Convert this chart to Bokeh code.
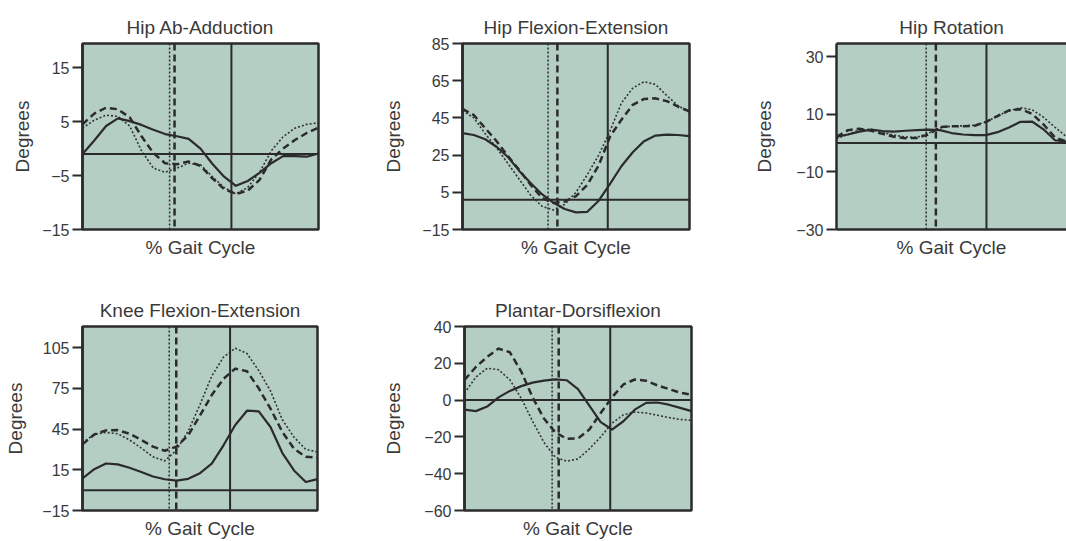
from bokeh.plotting import figure
from bokeh.layouts import column, row
from bokeh.models import Span, LinearAxis
from bokeh.embed import file_html
from bokeh.resources import INLINE

# ---------------- data ----------------
pct = [0, 5, 10, 15, 20, 25, 30, 35, 40, 45, 50, 55, 60, 65, 70, 75, 80, 85, 90, 95, 100]

titles = ["Hip Ab-Adduction", "Hip Flexion-Extension", "Hip Rotation",
          "Knee Flexion-Extension", "Plantar-Dorsiflexion"]
x_label = "% Gait Cycle"
y_label = "Degrees"

# Hip Ab-Adduction
hab_solid = [-1.0, 1.5, 4.2, 5.6, 5.1, 4.4, 3.5, 2.7, 2.3, 1.8, 0.0, -2.8, -5.2, -6.9, -6.0, -4.5, -2.7, -1.4, -1.4, -1.5, -0.9]
hab_dashed = [4.5, 6.5, 7.6, 7.3, 5.8, 2.3, -0.8, -2.7, -2.9, -2.4, -3.2, -5.5, -7.5, -8.4, -7.8, -5.8, -2.0, 0.0, 1.6, 2.9, 3.9]
hab_dotted = [3.8, 5.3, 6.2, 6.0, 4.2, -0.4, -3.6, -4.4, -3.6, -2.7, -3.0, -5.2, -7.2, -8.4, -7.2, -4.4, -0.4, 2.2, 3.8, 4.5, 4.8]

# Hip Flexion-Extension
hfe_solid = [36.8, 35.8, 33.5, 29.5, 24.0, 16.5, 10.0, 4.0, -0.5, -4.0, -5.8, -5.5, 0.5, 9.5, 19.0, 26.5, 32.5, 35.5, 36.0, 35.8, 35.2]
hfe_dashed = [49.8, 46.5, 39.5, 32.5, 24.5, 17.0, 9.0, 2.0, -0.8, 0.0, 3.0, 9.0, 19.5, 35.0, 44.0, 52.0, 55.2, 55.5, 54.0, 51.0, 48.5]
hfe_dotted = [48.9, 45.0, 36.5, 29.0, 20.5, 12.0, 3.5, -2.5, -4.5, -1.5, 5.0, 14.5, 25.0, 38.0, 53.0, 61.0, 64.5, 63.0, 57.0, 51.5, 48.0]

# Hip Rotation
hro_solid = [2.2, 3.0, 4.0, 4.7, 4.2, 4.0, 4.3, 4.5, 4.7, 4.5, 3.5, 3.0, 2.8, 2.8, 3.8, 5.4, 7.4, 7.5, 4.8, 1.0, 0.5]
hro_dashed = [2.2, 4.5, 5.0, 4.3, 3.2, 2.2, 1.7, 1.8, 3.0, 5.6, 5.9, 5.9, 6.0, 7.4, 9.4, 11.4, 11.8, 10.2, 6.5, 2.0, 0.5]
hro_dotted = [1.6, 3.0, 4.6, 4.8, 3.7, 2.8, 2.1, 2.0, 3.5, 5.3, 5.9, 6.0, 6.2, 7.3, 9.5, 11.2, 12.3, 11.6, 9.0, 5.5, 2.2]

# Knee Flexion-Extension
kfe_solid = [8.6, 15.4, 19.6, 19.0, 16.5, 13.4, 10.0, 8.0, 7.0, 8.3, 12.5, 19.5, 33.0, 48.0, 58.5, 58.0, 46.5, 27.5, 14.5, 6.0, 8.1]
kfe_dashed = [33.7, 41.0, 44.0, 44.2, 41.5, 37.0, 32.0, 29.0, 32.0, 40.5, 55.0, 70.0, 82.0, 89.5, 87.5, 75.0, 60.0, 43.0, 30.5, 24.5, 24.0]
kfe_dotted = [34.9, 41.0, 42.5, 41.5, 37.0, 31.0, 24.5, 21.5, 29.5, 43.5, 63.0, 84.0, 98.0, 104.5, 100.6, 88.0, 73.0, 52.0, 39.0, 30.0, 28.1]

# Plantar-Dorsiflexion
pdf_solid = [-5.2, -6.0, -3.5, 1.5, 5.0, 7.6, 9.5, 10.6, 11.3, 10.8, 6.0, -3.0, -12.0, -16.0, -11.5, -5.2, -1.5, -1.3, -2.5, -4.2, -6.0]
pdf_dashed = [10.9, 18.0, 23.5, 28.0, 26.0, 15.5, 1.5, -10.0, -17.5, -21.0, -20.8, -16.0, -7.0, 1.5, 8.5, 11.2, 10.5, 8.0, 6.0, 4.0, 3.0]
pdf_dotted = [3.8, 12.5, 17.3, 16.5, 11.0, 1.0, -11.5, -23.0, -31.0, -33.2, -32.0, -26.5, -20.0, -12.5, -8.0, -6.5, -7.0, -8.2, -9.5, -10.5, -11.0]

# y ranges and tick labels
y_lo = [-15, -15, -30, -15, -60]
y_hi = [19.5, 85, 34.6, 120.5, 40]
y_ticks = [[-15, -5, 5, 15], [-15, 5, 25, 45, 65, 85], [-30, -10, 10, 30],
           [-15, 15, 45, 75, 105], [-60, -40, -20, 0, 20, 40]]
# reference lines (% gait cycle for event markers, degrees for baseline)
event_dotted = [36.9, 37.7, 39.0, 36.9, 38.6]
event_dashed = [39.0, 41.8, 43.2, 39.9, 41.5]
event_solid = [63.1, 64.0, 65.2, 62.8, 64.2]
baseline = [-1, 1, 0, 0, 0]

series = [(hab_solid, hab_dashed, hab_dotted), (hfe_solid, hfe_dashed, hfe_dotted),
          (hro_solid, hro_dashed, hro_dotted), (kfe_solid, kfe_dashed, kfe_dotted),
          (pdf_solid, pdf_dashed, pdf_dotted)]

# ---------------- style / geometry ----------------
BG = "#b4cec4"
DARK = "#2b2b2b"
TXT = "#3a3a3a"
FONT = "Liberation Sans"

# (width, height, border_left, border_right, border_top, border_bottom, label_standoff, open_right)
geom = [
    (380, 268, 82, 62, 43, 39, 6, False),
    (370, 268, 81, 61, 43, 39, 15, False),
    (316, 268, 86, 0, 43, 39, 18, True),
    (380, 273, 82, 63, 58, 29, 13, False),
    (370, 273, 82, 59, 58, 29, 17, False),
]


def minus(t):
    return str(t).replace("-", "\u2212")


def make_panel(i):
    w, h, bl, br, bt, bb, lstand, open_right = geom[i]
    p = figure(width=w, height=h, x_range=(0, 100), y_range=(y_lo[i], y_hi[i]),
               output_backend="svg", toolbar_location=None,
               min_border_left=bl, min_border_right=br, min_border_top=bt, min_border_bottom=bb,
               background_fill_color=BG, border_fill_color="white", title=titles[i])
    p.grid.visible = False
    p.title.text_font = FONT
    p.title.text_font_size = "19px"
    p.title.text_font_style = "normal"
    p.title.text_color = TXT
    p.title.align = "center"
    p.title.standoff = 11

    xa = p.xaxis[0]
    xa.ticker = []
    xa.axis_label = x_label
    xa.axis_label_text_font = FONT
    xa.axis_label_text_font_size = "19px"
    xa.axis_label_text_font_style = "normal"
    xa.axis_label_text_color = TXT
    xa.major_tick_out = 0
    xa.major_tick_in = 0
    xa.minor_tick_out = 0
    xa.minor_tick_in = 0
    xa.major_label_standoff = 0
    xa.axis_label_standoff = 7
    xa.axis_line_color = None

    ya = p.yaxis[0]
    ya.ticker = y_ticks[i]
    ya.major_label_overrides = {t: minus(t) for t in y_ticks[i]}
    ya.axis_label = y_label
    ya.axis_label_text_font = FONT
    ya.axis_label_text_font_size = "19px"
    ya.axis_label_text_font_style = "normal"
    ya.axis_label_text_color = TXT
    ya.axis_label_standoff = lstand
    ya.major_label_text_font = FONT
    ya.major_label_text_font_size = "16px"
    ya.major_label_text_color = TXT
    ya.major_label_standoff = 3
    ya.major_tick_out = 10
    ya.major_tick_in = 0
    ya.minor_tick_out = 0
    ya.minor_tick_in = 0
    ya.major_tick_line_color = DARK
    ya.major_tick_line_width = 2
    ya.axis_line_color = DARK
    ya.axis_line_width = 2.5

    if open_right:
        # panel cut off at the right edge: draw left/top/bottom borders only
        p.outline_line_color = None
        xa.axis_line_color = DARK
        xa.axis_line_width = 2.5
        top = LinearAxis(ticker=[], major_tick_out=0, major_tick_in=0, minor_tick_out=0,
                         minor_tick_in=0, major_label_standoff=0,
                         axis_line_color=DARK, axis_line_width=2.5)
        p.add_layout(top, "above")
    else:
        p.outline_line_color = DARK
        p.outline_line_width = 2.5
        p.outline_line_alpha = 1.0

    p.add_layout(Span(location=baseline[i], dimension="width", line_color=DARK, line_width=2))
    p.add_layout(Span(location=event_dotted[i], dimension="height", line_color=DARK,
                      line_width=1.5, line_dash="2 2"))
    p.add_layout(Span(location=event_dashed[i], dimension="height", line_color=DARK,
                      line_width=2.5, line_dash="7 4"))
    p.add_layout(Span(location=event_solid[i], dimension="height", line_color=DARK, line_width=2))

    s_solid, s_dashed, s_dotted = series[i]
    p.line(pct, s_dotted, line_color="#333333", line_width=1.6, line_dash="2 2", line_join="round")
    p.line(pct, s_dashed, line_color=DARK, line_width=2.5, line_dash="7 4", line_join="round")
    p.line(pct, s_solid, line_color=DARK, line_width=2.2, line_join="round")
    return p


panels = [make_panel(i) for i in range(5)]
layout = column(row(panels[0], panels[1], panels[2]), row(panels[3], panels[4]))

open("out.html", "w").write(file_html(layout, INLINE, title="Gait kinematics"))
